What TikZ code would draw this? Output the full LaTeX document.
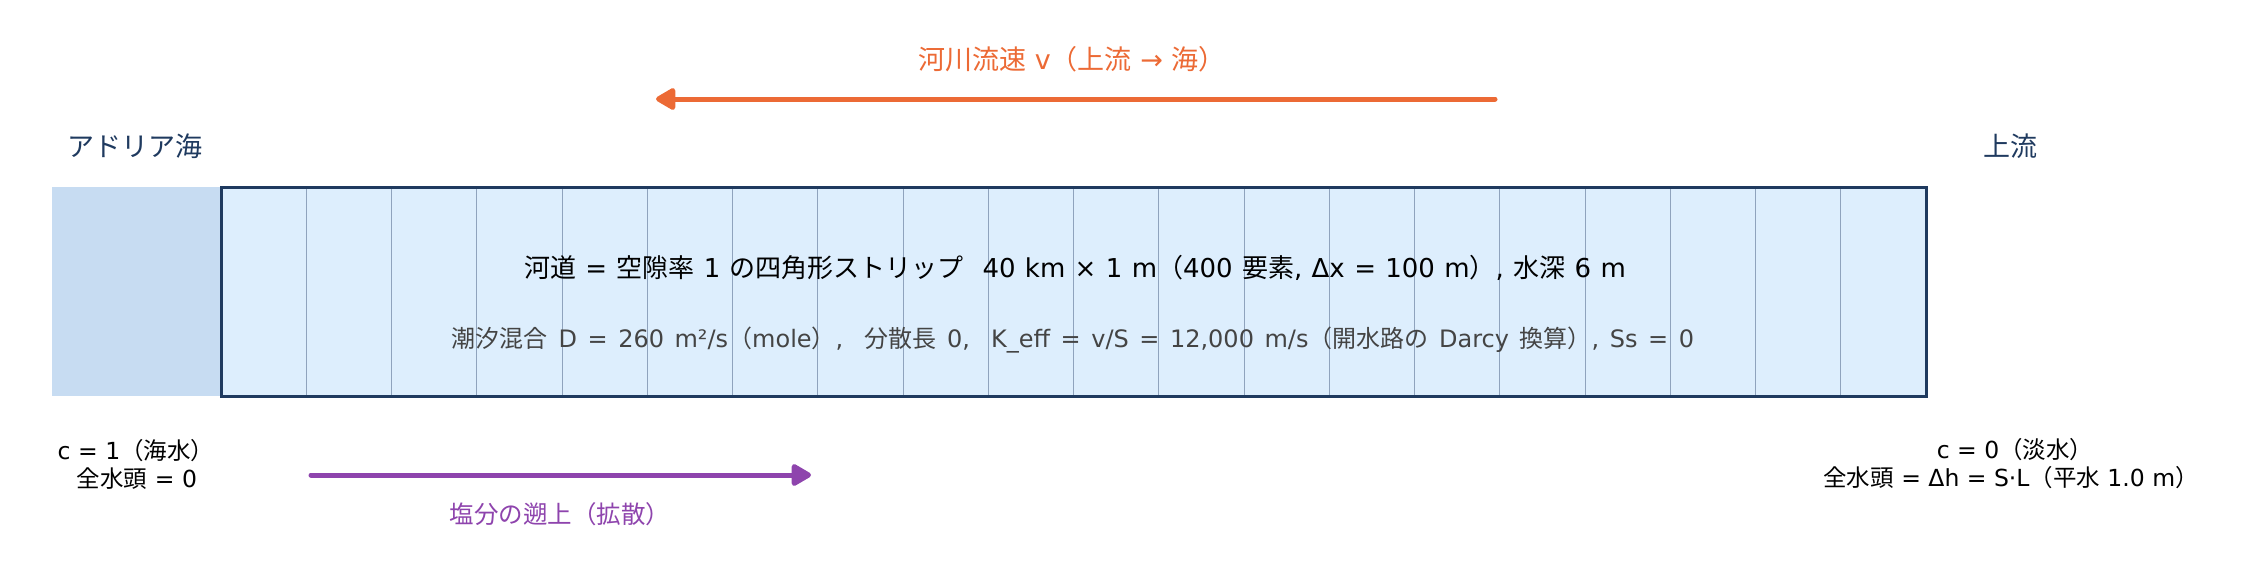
\documentclass[tikz,border=0pt]{standalone}
\usepackage{fontspec}
\setmainfont{DejaVu Sans}
\newfontfamily\jp{Noto Sans CJK JP}
\newcommand\J[1]{{\jp #1}}
\newcommand\mlfont{\fontsize{26}{31}\selectfont\spaceskip=0.36em\relax}
\newcommand\slfont{\fontsize{24}{29}\selectfont\spaceskip=0.44em\relax}
\usetikzlibrary{arrows.meta}
\definecolor{navy}{HTML}{1F3A5F}
\definecolor{seafill}{HTML}{C7DCF2}
\definecolor{stripfill}{HTML}{DDEEFD}
\definecolor{gridc}{HTML}{8FA3BD}
\definecolor{flowc}{HTML}{EC6A35}
\definecolor{saltc}{HTML}{8E44AD}
\definecolor{subc}{HTML}{444444}
\tikzset{
  big/.style={font=\fontsize{27}{32}\selectfont},
  mainline/.style={font=\mlfont, text=black},
  subline/.style={font=\slfont, text=subc},
  bclabel/.style={font=\fontsize{23.5}{28}\selectfont, text=black, align=center},
  gridline/.style={draw=gridc, line width=1pt},
  arrowline/.style={line width=5pt, line cap=round, -{Triangle[length=22pt,width=24pt,round]}},
}
\begin{document}
\begin{tikzpicture}[x=1pt,y=-1pt]
\useasboundingbox (0,0) rectangle (2250,576);
% sea block
\node[fill=seafill, minimum width=169pt, minimum height=209pt, inner sep=0pt] (sea) at (136.5,291.5) {};
% strip
\node[fill=stripfill, minimum width=1705pt, minimum height=209pt, inner sep=0pt] (strip) at (1073.5,291.5) {};
\foreach \i in {1,...,19}{
  \draw[gridline] (221+85.25*\i,188) -- (221+85.25*\i,395);
}
\node[draw=navy, line width=3pt, minimum width=1705pt, minimum height=209pt, inner sep=0pt] (stripborder) at (1073.5,291.5) {};
% texts in strip
\node[mainline] (t1) at (1075,268) {\J{河道} = \J{空隙率} 1 \J{の四角形ストリップ}\ \ 40 km × 1 m\J{（}400 \J{要素}, Δx = 100 m\J{）}, \J{水深} 6 m};
\node[subline] (t2) at (1073,340) {\J{潮汐混合} D = 260 m²/s\J{（}mole\J{）},\ \ \J{分散長} 0,\ \ K\_eff = v/S = 12,000 m/s\J{（開水路の} Darcy \J{換算）}, Ss = 0};
% top labels
\node[big, text=navy, anchor=west, inner sep=0pt] (adria) at (67,146) {\J{アドリア海}};
\node[big, text=navy, inner sep=0pt] (upstream) at (2010,146) {\J{上流}};
% river velocity arrow
\coordinate (vtail) at (1495,99);
\coordinate (vtip) at (656,99);
\draw[arrowline, draw=flowc, fill=flowc] (vtail) -- (vtip);
\node[big, text=flowc] (vlabel) at (1072,59) {\J{河川流速} v\J{（上流} → \J{海）}};
% boundary conditions
\node[bclabel] (bcsea) at (137,464) {c = 1\J{（海水）}\hspace*{2pt}\\\J{全水頭} = 0};
\node[bclabel] (bcup) at (2011,464) {\hspace*{8pt}c = 0\J{（淡水）}\\\J{全水頭} = Δh = S·L\J{（平水} 1.0 m\J{）}};
% salt intrusion arrow
\coordinate (stail) at (311,475);
\coordinate (stip) at (811,475);
\draw[arrowline, draw=saltc, fill=saltc] (stail) -- (stip);
\node[bclabel, font=\fontsize{24.5}{29}\selectfont, text=saltc] (slabel) at (560,514) {\J{塩分の遡上（拡散）}};
\end{tikzpicture}
\end{document}
